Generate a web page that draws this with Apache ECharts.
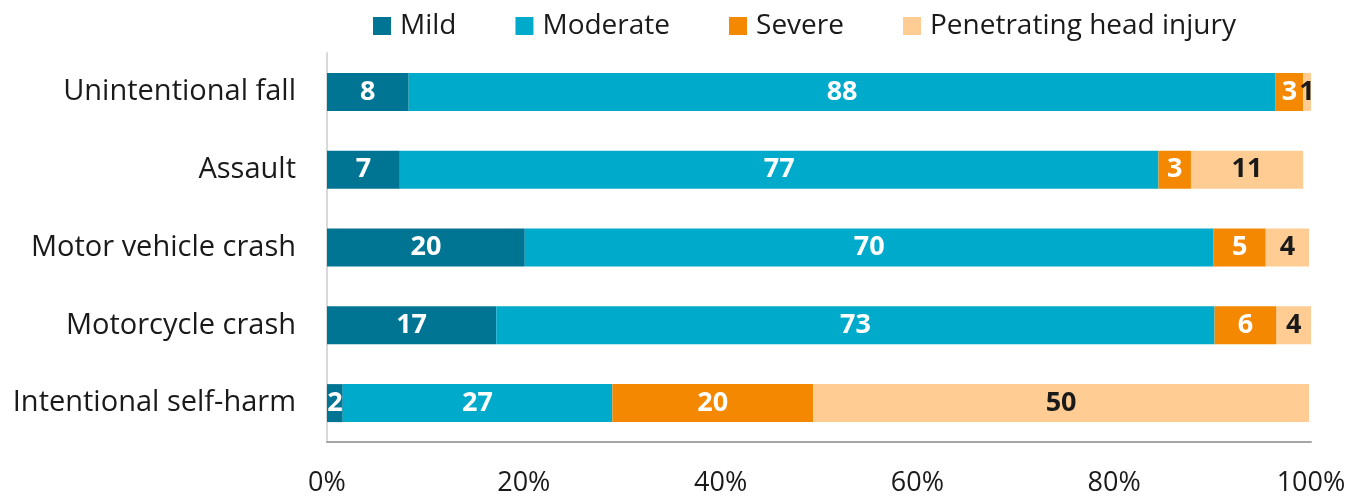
<!DOCTYPE html>
<html>
<head>
<meta charset="utf-8">
<script src="https://cdn.jsdelivr.net/npm/echarts@6/dist/echarts.min.js"></script>
<style>
  html, body { margin: 0; padding: 0; background: #fff; }
  #container { width: 1352px; height: 496px; }
</style>
</head>
<body>
<div id="container"></div>
<script>
// causes, top to bottom
const categories = ['Unintentional fall', 'Assault', 'Motor vehicle crash', 'Motorcycle crash', 'Intentional self-harm']
const seriesNames = ['Mild', 'Moderate', 'Severe', 'Penetrating head injury']

// percentages
const mild = [8.3, 7.4, 20.1, 17.2, 1.6]
const moderate = [88.1, 77.1, 70.0, 73.0, 27.4]
const severe = [2.8, 3.3, 5.3, 6.3, 20.4]
const penetrating = [0.9, 11.4, 4.4, 3.7, 50.4]

const xTicks = [0, 20, 40, 60, 80, 100]

const colors = ['#007593', '#00aacb', '#f48800', '#ffcd94']
const labelColors = ['#fff', '#fff', '#fff', '#1a1a1a']
const fontFamily = '"Open Sans", "Noto Sans", sans-serif'

const dom = document.getElementById('container')
const myChart = echarts.init(dom)

const values = [mild, moderate, severe, penetrating]
const series = seriesNames.map((name, i) => {
  return {
    name: name,
    type: 'bar',
    stack: 'total',
    barWidth: 38,
    data: values[i],
    itemStyle: { color: colors[i] },
    label: {
      show: true,
      position: 'inside',
      color: labelColors[i],
      fontFamily: fontFamily,
      fontSize: 27,
      fontWeight: 'bold',
      formatter: p => Math.round(p.value)
    }
  }
})

const option = {
  animation: false,
  legend: {
    data: seriesNames,
    left: 373,
    top: 12,
    padding: 0,
    icon: 'rect',
    itemWidth: 18,
    itemHeight: 18,
    itemGap: 59,
    textStyle: { fontFamily: fontFamily, fontSize: 28, color: '#1a1a1a', padding: [0, 0, 0, 4] }
  },
  grid: { left: 327, right: 41, top: 53, bottom: 54, containLabel: false, outerBoundsMode: 'none' },
  xAxis: {
    type: 'value',
    min: xTicks[0],
    max: xTicks[xTicks.length - 1],
    interval: 20,
    splitLine: { show: false },
    axisLine: { show: true, lineStyle: { color: '#a6a6a6', width: 2 } },
    axisTick: { show: false },
    axisLabel: {
      formatter: v => v + '%',
      fontFamily: fontFamily,
      fontSize: 27,
      color: '#1a1a1a',
      margin: 28
    }
  },
  yAxis: {
    type: 'category',
    data: categories,
    inverse: true,
    axisLine: { show: true, lineStyle: { color: '#d9d9d9', width: 2 } },
    axisTick: { show: false },
    axisLabel: {
      fontFamily: fontFamily,
      fontSize: 29,
      color: '#1a1a1a',
      margin: 31
    }
  },
  series: series
}

myChart.setOption(option)
</script>
</body>
</html>
